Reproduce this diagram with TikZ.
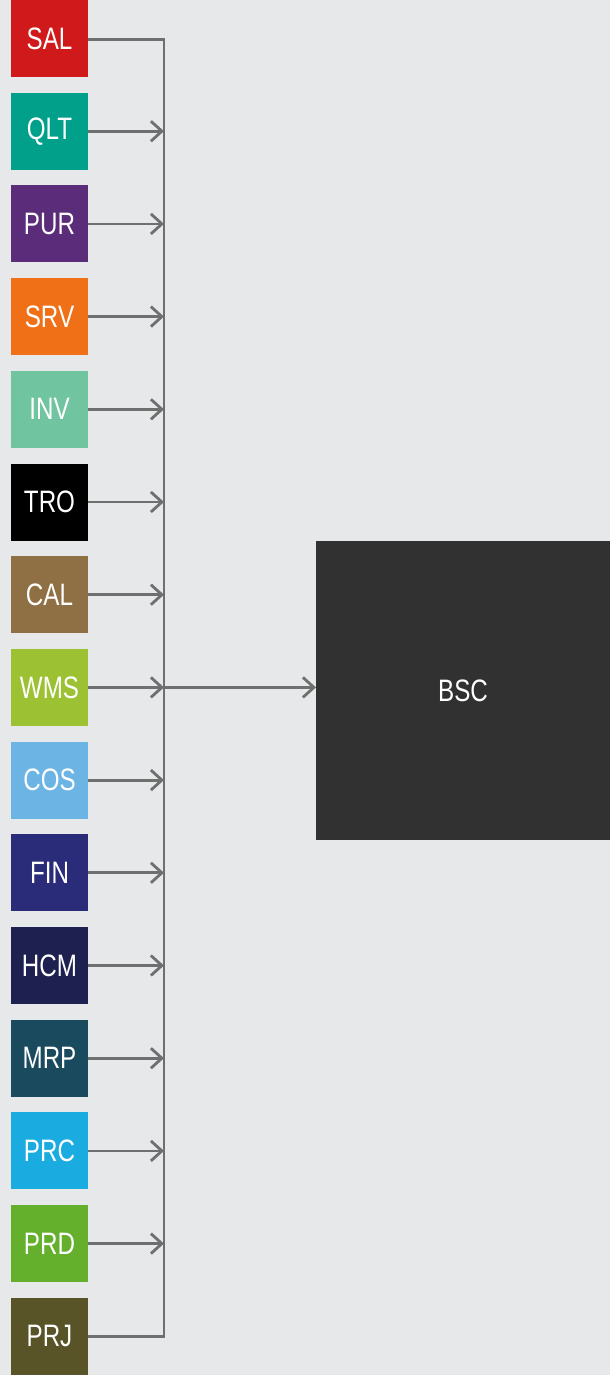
\documentclass[tikz,border=0pt]{standalone}
\usepackage{fontspec}
\setmainfont{Liberation Sans}[FakeStretch=0.78]
\usepackage{xcolor}
\usetikzlibrary{positioning}
\usetikzlibrary{arrows.meta}

\definecolor{bgGray}{HTML}{E7E8EA}
\definecolor{lineGray}{HTML}{6E7070}
\definecolor{cSAL}{HTML}{D0191A}
\definecolor{cQLT}{HTML}{00A08A}
\definecolor{cPUR}{HTML}{5B2C7A}
\definecolor{cSRV}{HTML}{F07018}
\definecolor{cINV}{HTML}{70C4A0}
\definecolor{cTRO}{HTML}{000000}
\definecolor{cCAL}{HTML}{8F7045}
\definecolor{cWMS}{HTML}{9CC234}
\definecolor{cCOS}{HTML}{6CB4E4}
\definecolor{cFIN}{HTML}{2A2C7A}
\definecolor{cHCM}{HTML}{1E2050}
\definecolor{cMRP}{HTML}{1A4A5E}
\definecolor{cPRC}{HTML}{1AACE0}
\definecolor{cPRD}{HTML}{64B02C}
\definecolor{cPRJ}{HTML}{585428}
\definecolor{cBSC}{HTML}{313131}

\begin{document}
\begin{tikzpicture}[x=1pt, y=1pt, ->, >={Straight Barb[length=11pt, width=20pt, line width=2.8pt]}, draw=lineGray, line width=2.8pt, node distance=15.7pt]
    \tikzstyle{module}=[rectangle, draw=none, minimum size=77pt, inner sep=0pt, outer sep=0pt, text=white, font=\fontsize{31}{36}\selectfont]
    \tikzstyle{hub}=[rectangle, draw=none, fill=cBSC, minimum width=294pt, minimum height=299pt, inner sep=0pt, outer sep=0pt, text=white, font=\fontsize{31}{36}\selectfont]

    % background and bounding box
    \fill[bgGray] (0,0) rectangle (610,-1375);
    \useasboundingbox (0,0) rectangle (610,-1375);

    \node[module, fill=cSAL] (SAL) at (49.5,-38.5) {SAL};
    \node[module, fill=cQLT, below=of SAL] (QLT) {QLT};
    \node[module, fill=cPUR, below=of QLT] (PUR) {PUR};
    \node[module, fill=cSRV, below=of PUR] (SRV) {SRV};
    \node[module, fill=cINV, below=of SRV] (INV) {INV};
    \node[module, fill=cTRO, below=of INV] (TRO) {TRO};
    \node[module, fill=cCAL, below=of TRO] (CAL) {CAL};
    \node[module, fill=cWMS, below=of CAL] (WMS) {WMS};
    \node[module, fill=cCOS, below=of WMS] (COS) {COS};
    \node[module, fill=cFIN, below=of COS] (FIN) {FIN};
    \node[module, fill=cHCM, below=of FIN] (HCM) {HCM};
    \node[module, fill=cMRP, below=of HCM] (MRP) {MRP};
    \node[module, fill=cPRC, below=of MRP] (PRC) {PRC};
    \node[module, fill=cPRD, below=of PRC] (PRD) {PRD};
    \node[module, fill=cPRJ, below=of PRD] (PRJ) {PRJ};

    \node[hub] (BSC) at (463,-690.5) {BSC};

    \coordinate (bustop) at (164,-39.5);
    \coordinate (busbot) at (bustop |- PRJ.east);

    % collecting bus
    \draw[-, line join=miter] (SAL.east |- bustop) -- (bustop) -- (busbot) -- (PRJ.east);

    \draw (QLT.east) -- (QLT.east -| bustop);
    \draw (PUR.east) -- (PUR.east -| bustop);
    \draw (SRV.east) -- (SRV.east -| bustop);
    \draw (INV.east) -- (INV.east -| bustop);
    \draw (TRO.east) -- (TRO.east -| bustop);
    \draw (CAL.east) -- (CAL.east -| bustop);
    \draw (WMS.east) -- (WMS.east -| bustop);
    \draw (COS.east) -- (COS.east -| bustop);
    \draw (FIN.east) -- (FIN.east -| bustop);
    \draw (HCM.east) -- (HCM.east -| bustop);
    \draw (MRP.east) -- (MRP.east -| bustop);
    \draw (PRC.east) -- (PRC.east -| bustop);
    \draw (PRD.east) -- (PRD.east -| bustop);

    % into the scorecard
    \draw (WMS.east -| bustop) -- (BSC.west |- WMS.east);

\end{tikzpicture}
\end{document}
